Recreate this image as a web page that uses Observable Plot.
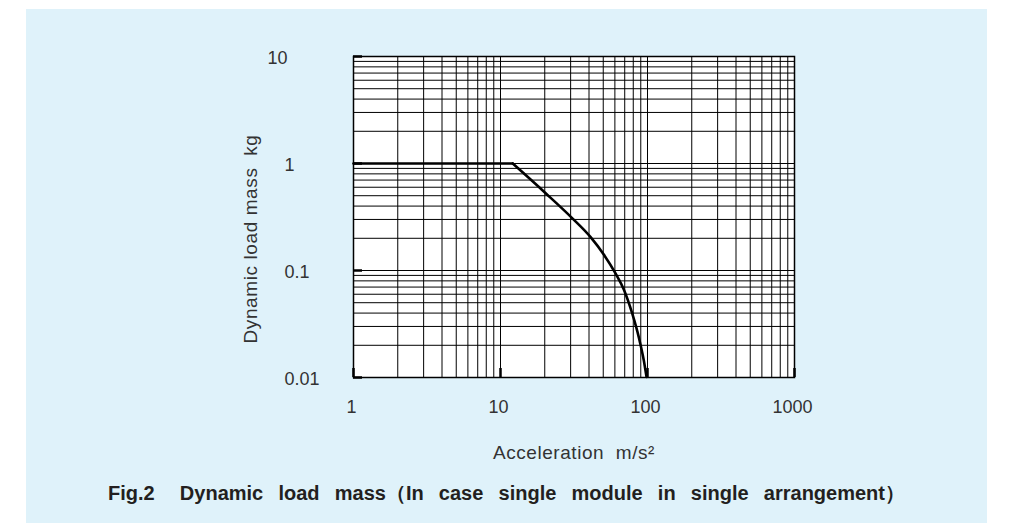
<!DOCTYPE html>
<html>
<head>
<meta charset="utf-8">
<script src="https://cdn.jsdelivr.net/npm/d3@7"></script>
<script src="https://cdn.jsdelivr.net/npm/@observablehq/plot@0.6"></script>
<style>
  html, body { margin: 0; padding: 0; background: #ffffff; width: 1013px; height: 532px; overflow: hidden; }
  #bg { position: absolute; left: 26px; top: 9px; width: 961px; height: 514px; background: #dff2fa; }
  #chart { position: absolute; left: 0; top: 0; }
  #title { position: absolute; left: 108px; top: 481px; font-family: "Liberation Sans", Arial, sans-serif;
           font-weight: bold; font-size: 20px; line-height: 24px; color: #231f20; white-space: pre; }
</style>
</head>
<body>
<div id="bg"></div>
<div id="chart"></div>
<span id="title">Fig.2&#8194; Dynamic load mass（In case single module in single arrangement）</span>
<script>
// Curve: plateau then descent (acceleration m/s², mass kg)
const plateauAccel = [1, 12.1];
const plateauMass = [1, 1];
const curveAccel = [12.1, 20.2, 30.7, 40.9, 50.4, 60.6, 69.0, 78.7, 87.3, 94.4, 98.5];
const curveMass = [1, 0.530, 0.309, 0.206, 0.141, 0.0938, 0.0665, 0.0397, 0.0237, 0.0144, 0.0101];

// Grid lines
const xGrid = [1,2,3,4,5,6,7,8,9,10,20,30,40,50,60,70,80,90,100,200,300,400,500,600,700,800,900,1000];
const yGrid = [0.01,0.02,0.03,0.04,0.05,0.06,0.07,0.08,0.09,0.1,0.2,0.3,0.4,0.5,0.6,0.7,0.8,0.9,1,2,3,4,5,6,7,8,9,10];

// Major ticks and labels
const xTicks = [1, 10, 100, 1000];
const xTickLabels = ["1", "10", "100", "1000"];
const yTicks = [10, 1, 0.1, 0.01];
const yTickLabels = ["10", "1", "0.1", "0.01"];
const xTitle = "Acceleration  m/s²";
const yTitle = "Dynamic load mass  kg";

const plateau = plateauAccel.map((a, i) => ({a, m: plateauMass[i]}));
const curve = curveAccel.map((a, i) => ({a, m: curveMass[i]}));
const yLab = yTicks.map((v, i) => ({v, t: yTickLabels[i]}));
const xLab = xTicks.map((v, i) => ({v, t: xTickLabels[i]}));

const chart = Plot.plot({
  width: 1013,
  height: 470,
  marginLeft: 353,
  marginRight: 219,
  marginTop: 56,
  marginBottom: 93,
  x: {type: "log", domain: [1, 1000]},
  y: {type: "log", domain: [0.01, 10]},
  style: {background: "transparent", fontFamily: "'Liberation Sans', Arial, sans-serif", fontSize: "18px", color: "#333"},
  marks: [
    Plot.frame({fill: "white"}),
    Plot.ruleX(xGrid, {stroke: "black", strokeWidth: 1}),
    Plot.ruleY(yGrid, {stroke: "black", strokeWidth: 1}),
    Plot.axisX(xTicks, {tickSize: -9, strokeWidth: 2.5, stroke: "black", tickFormat: () => ""}),
    Plot.axisY(yTicks, {tickSize: -9, strokeWidth: 2.5, stroke: "black", tickFormat: () => ""}),
    Plot.frame({stroke: "black", strokeWidth: 1.5}),
    Plot.line(plateau, {x: "a", y: "m", stroke: "black", strokeWidth: 2.6}),
    Plot.line(curve, {x: "a", y: "m", stroke: "black", strokeWidth: 2.6, curve: "monotone-x"}),
    Plot.text(xLab, {x: "v", text: "t", frameAnchor: "bottom", dy: 35, dx: -2, fill: "#333", fontSize: 18}),
    Plot.text(yLab.filter(d => d.t !== "10"), {y: "v", text: "t", frameAnchor: "left", dx: -69, dy: 2, textAnchor: "start", fill: "#333", fontSize: 18}),
    Plot.text(yLab.filter(d => d.t === "10"), {y: "v", text: "t", frameAnchor: "left", dx: -86, dy: 2, textAnchor: "start", fill: "#333", fontSize: 18}),
    Plot.text([xTitle], {text: d => d, frameAnchor: "bottom", dy: 81, textAnchor: "middle", fill: "#333", fontSize: 19, className: "xtitle"}),
    Plot.text([yTitle], {text: d => d, frameAnchor: "left", dx: -103, dy: 22, rotate: -90, textAnchor: "middle", fill: "#333", fontSize: 19, className: "ytitle"})
  ]
});
d3.select(chart).selectAll(".xtitle text").attr("letter-spacing", 0.55);
d3.select(chart).selectAll(".ytitle text").attr("letter-spacing", 0.6);
document.getElementById("chart").appendChild(chart);

// Spread the caption's words over its width (797px), like the reference
const title = document.getElementById("title");
const natural = title.getBoundingClientRect().width;
const spaces = (title.textContent.match(/ /g) || []).length;
title.style.wordSpacing = ((797 - natural) / spaces) + "px";
</script>
</body>
</html>
